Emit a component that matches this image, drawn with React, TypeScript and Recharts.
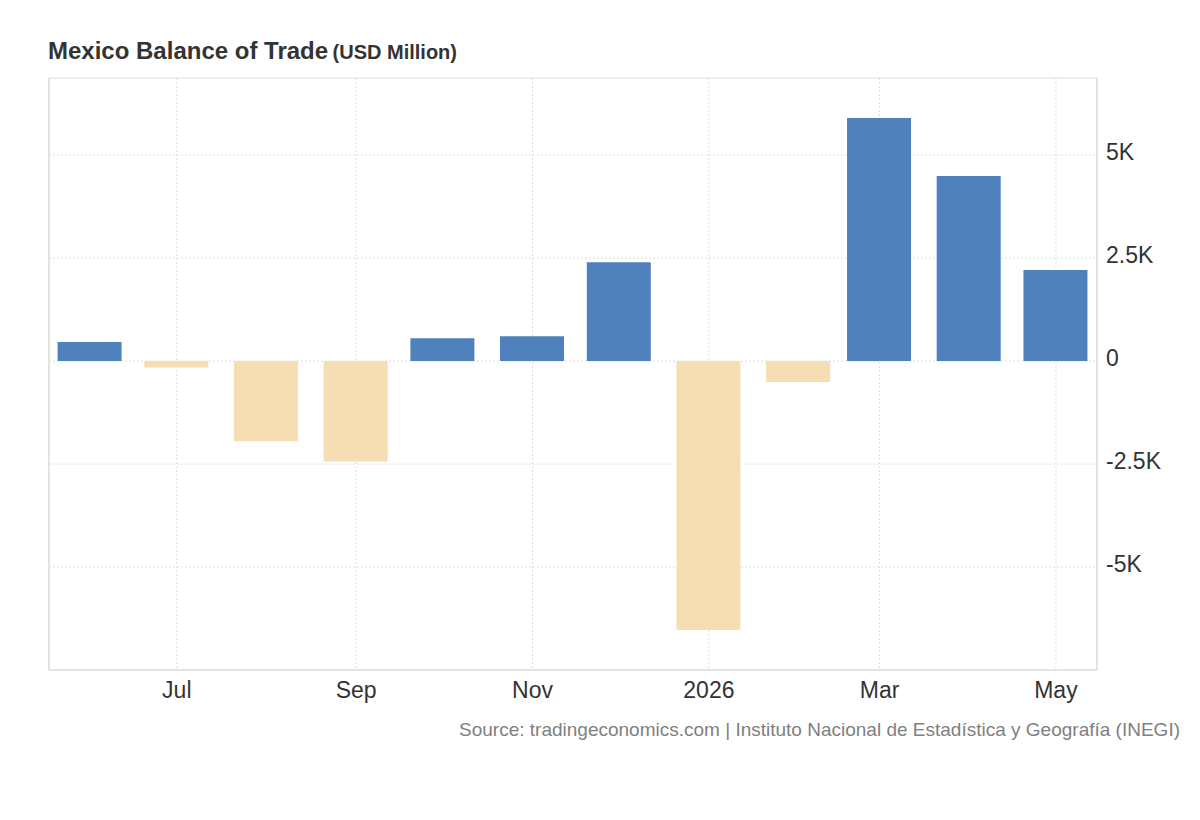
import { BarChart, Bar, Cell, CartesianGrid, XAxis, YAxis, ReferenceLine } from 'recharts';

// monthly trade balance, USD million
const months = ['2025-06', '2025-07', '2025-08', '2025-09', '2025-10', '2025-11', '2025-12', '2026-01', '2026-02', '2026-03', '2026-04', '2026-05'];
const balance = [460, -160, -1950, -2440, 550, 600, 2400, -6530, -510, 5900, 4490, 2210];

const tickMonths = ['2025-07', '2025-09', '2025-11', '2026-01', '2026-03', '2026-05'];
const tickLabels = ['Jul', 'Sep', 'Nov', '2026', 'Mar', 'May'];
const yTicks = [-5000, -2500, 0, 2500, 5000];

const DAY = 86400000;
const origin = Date.UTC(2025, 5, 1);
const toDay = (ym: string) => {
  const [y, m] = ym.split('-').map(Number);
  return (Date.UTC(y, m - 1, 1) - origin) / DAY;
};

const data = months.map((m, i) => ({ day: toDay(m), value: balance[i] }));
const xTicks = tickMonths.map(toDay);

const X_MIN = -14.2;
const X_MAX = 348.2;
const Y_MIN = -7500;
const Y_MAX = 6870;

const POS = '#4f81bd';
const NEG = '#f5deb3';
const GRID = '#dedede';
const AXIS = '#e3e3e3';
const FONT = 'Arial, "Liberation Sans", sans-serif';

const fmtY = (v: number) => (v === 0 ? '0' : `${v / 1000}K`);
const fmtX = (v: number) => tickLabels[xTicks.indexOf(v)] ?? '';

export default function App() {
  return (
    <div
      style={{
        position: 'absolute',
        left: 0,
        top: 0,
        width: 1200,
        height: 820,
        background: '#fff',
        fontFamily: FONT,
      }}
    >
      <div style={{ position: 'absolute', left: 48, top: 37, color: '#333', fontWeight: 'bold', whiteSpace: 'nowrap' }}>
        <span style={{ fontSize: 24 }}>Mexico Balance of Trade</span>{' '}
        <span style={{ fontSize: 20 }}>(USD Million)</span>
      </div>
      <BarChart
        width={1200}
        height={820}
        data={data}
        margin={{ top: 78, right: 23, bottom: 110, left: 49 }}
        style={{ position: 'absolute', left: 0, top: 0 }}
      >
        <CartesianGrid stroke={GRID} strokeDasharray="2 2" />
        <ReferenceLine y={Y_MAX} stroke={GRID} strokeDasharray="2 2" />
        <ReferenceLine x={X_MIN} stroke={AXIS} strokeWidth={2} />
        <XAxis
          dataKey="day"
          type="number"
          domain={[X_MIN, X_MAX]}
          ticks={xTicks}
          tickFormatter={fmtX}
          height={40}
          tickSize={0}
          tickMargin={12}
          axisLine={{ stroke: AXIS, strokeWidth: 2 }}
          tick={{ fill: '#333', fontSize: 23, fontFamily: FONT }}
        />
        <YAxis
          orientation="right"
          type="number"
          domain={[Y_MIN, Y_MAX]}
          ticks={yTicks}
          tickFormatter={fmtY}
          width={80}
          tickSize={0}
          tickMargin={9}
          axisLine={{ stroke: AXIS, strokeWidth: 2 }}
          tick={{ fill: '#333', fontSize: 23, fontFamily: FONT, dy: -3 }}
        />
        <Bar dataKey="value" barSize={64} isAnimationActive={false}>
          {data.map((d, i) => (
            <Cell key={i} fill={d.value >= 0 ? POS : NEG} />
          ))}
        </Bar>
      </BarChart>
      <div
        style={{
          position: 'absolute',
          right: 20,
          top: 719,
          fontSize: 19,
          color: '#808080',
          whiteSpace: 'nowrap',
        }}
      >
        Source: tradingeconomics.com | Instituto Nacional de Estadística y Geografía (INEGI)
      </div>
    </div>
  );
}
